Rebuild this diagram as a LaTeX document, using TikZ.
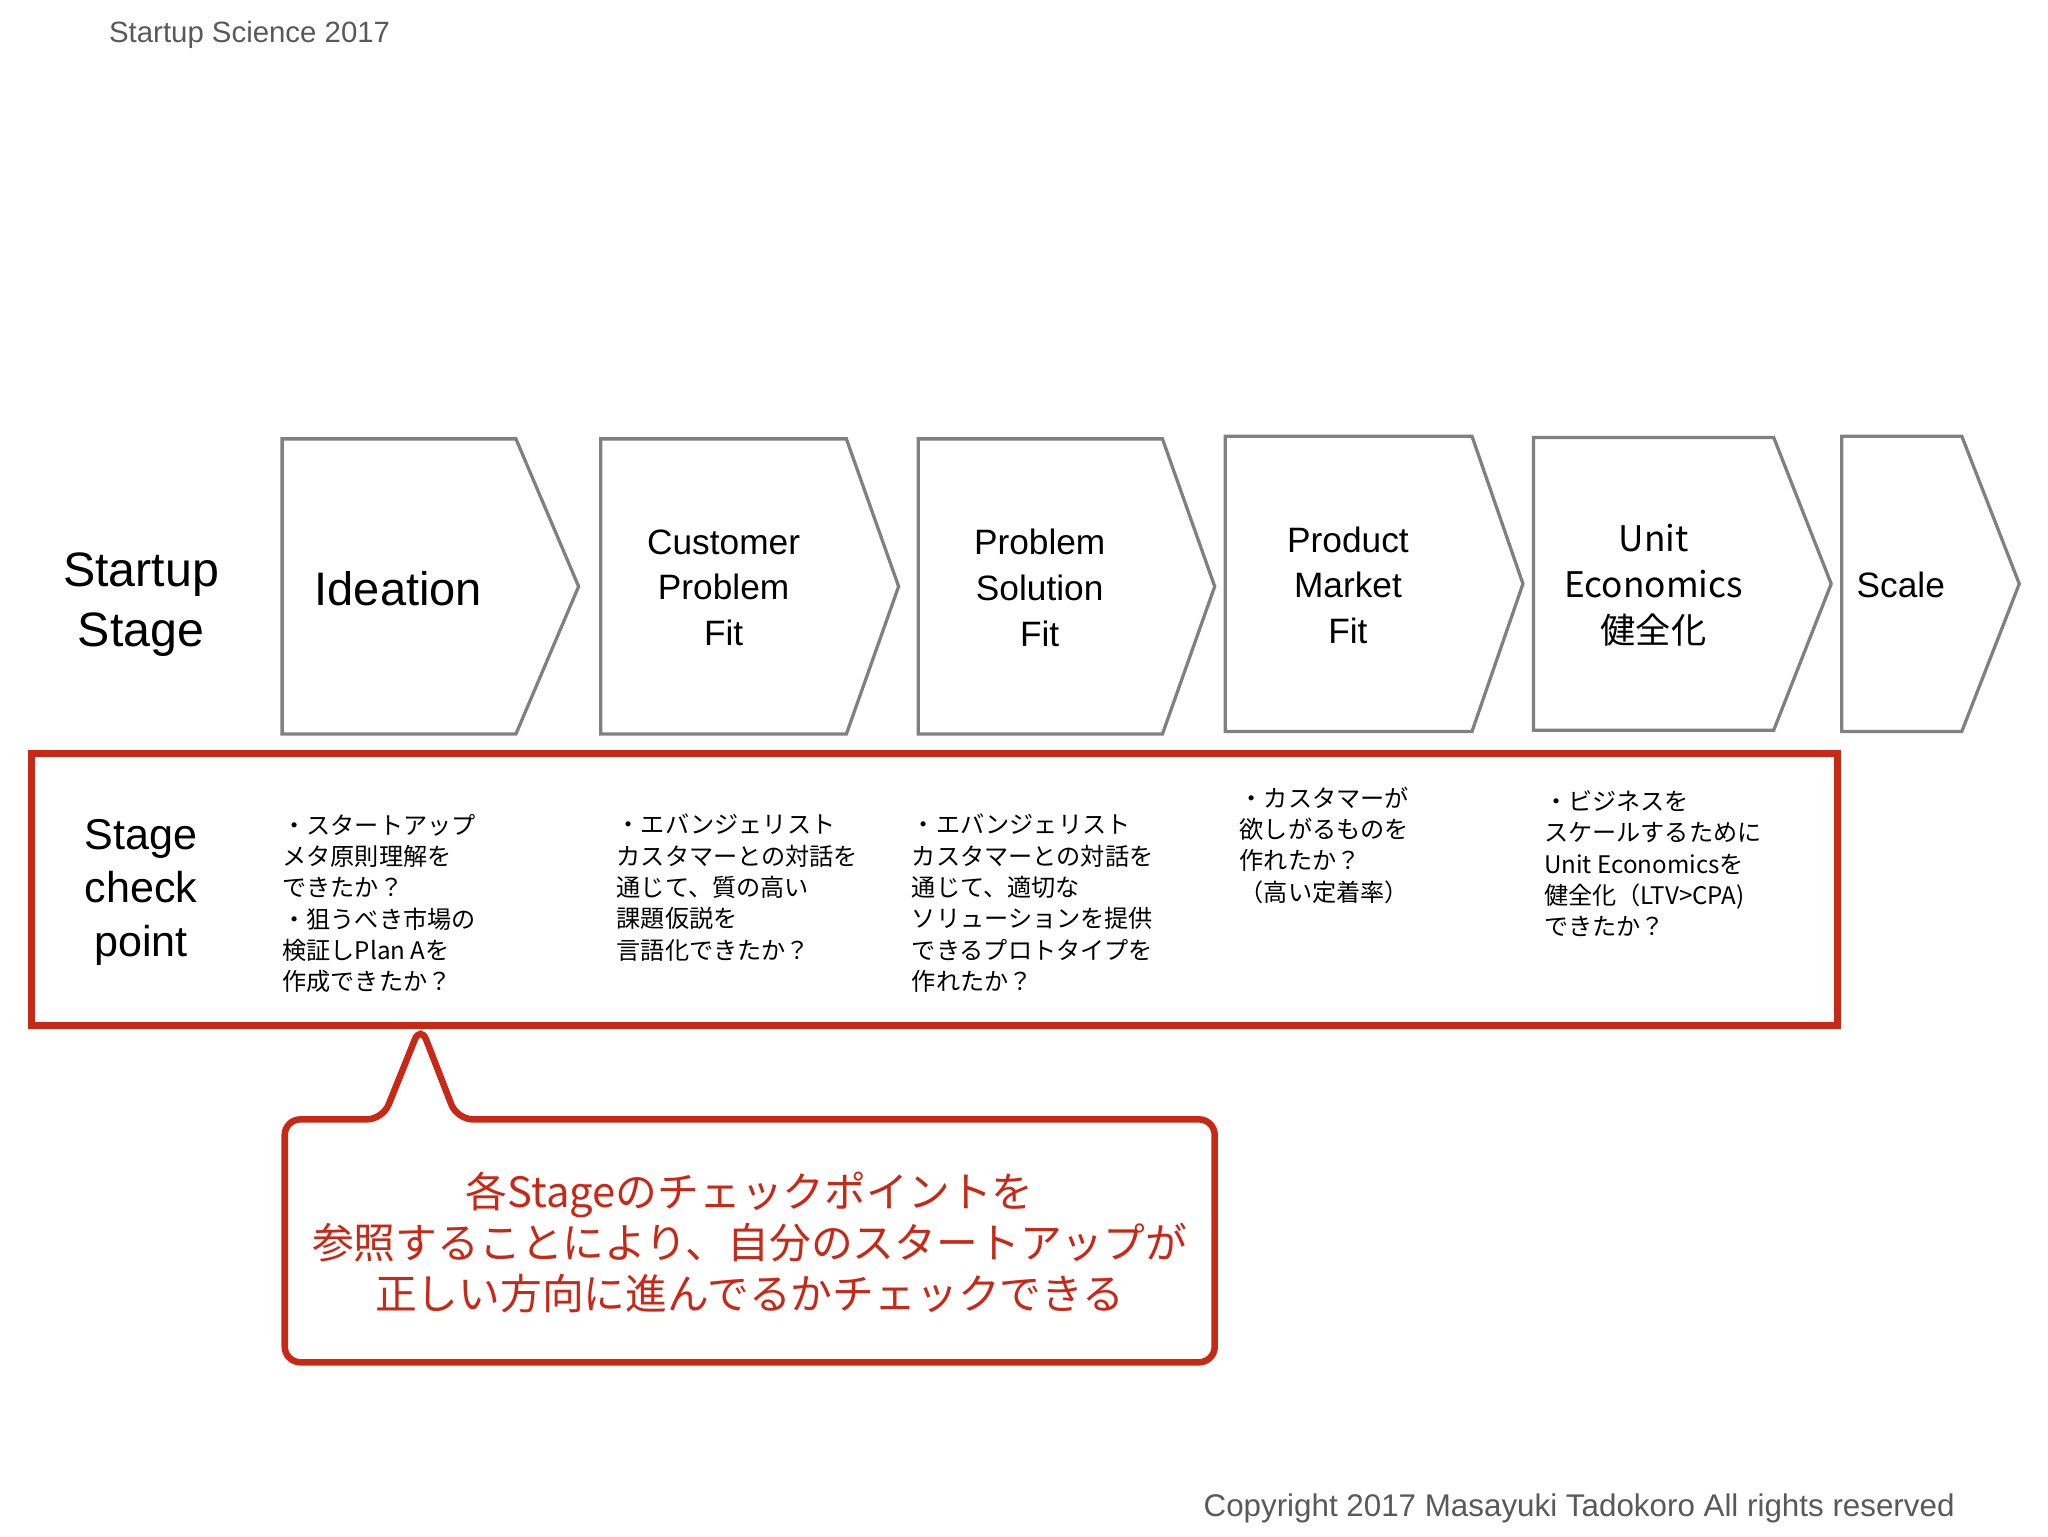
\documentclass[tikz,border=0pt]{standalone}
\usepackage{fontspec}
\setmainfont{Liberation Sans}
\newfontfamily\jp{Noto Sans CJK JP}
\definecolor{rd}{RGB}{200,40,22}
\begin{document}
\begin{tikzpicture}[x=1pt,y=-1pt,
  chev/.style={draw=black!50,line width=2.5pt,line join=miter,fill=white},
  big/.style={font=\fontsize{27}{35}\selectfont,align=center},
  small/.style={font=\jp\fontsize{18.5}{24}\selectfont,align=left,anchor=north west,inner sep=0pt},
  redc/.style={draw=rd,line width=5pt}]
\useasboundingbox (0,0) rectangle (1568,1176);
\node[anchor=west,text=black!65,font=\fontsize{22.5}{26}\selectfont] (hdr) at (80,27) {Startup Science 2017};
% chevrons
\draw[chev] (216,336) -- (395,336) -- (443,449) -- (395,562) -- (216,562) -- cycle;
\draw[chev] (460,336) -- (648,336) -- (688,449) -- (648,562) -- (460,562) -- cycle;
\draw[chev] (703,336) -- (890,336) -- (930,449) -- (890,562) -- (703,562) -- cycle;
\draw[chev] (938,334) -- (1127,334) -- (1166,447) -- (1127,560) -- (938,560) -- cycle;
\draw[chev] (1174,335) -- (1358,335) -- (1402,447) -- (1358,559) -- (1174,559) -- cycle;
\draw[chev] (1410,334) -- (1502,334) -- (1546,447) -- (1502,560) -- (1410,560) -- cycle;
\node[big,font=\fontsize{37}{46}\selectfont] (ss) at (108,463) {Startup\\Stage};
\node[big,font=\fontsize{36}{40}\selectfont] (id) at (305,451) {Ideation};
\node[big] (c1) at (554,450) {Customer\\Problem\\Fit};
\node[big] (c2) at (796,450) {Problem\\Solution\\Fit};
\node[big] (c3) at (1032,448) {Product\\Market\\Fit};
\node[big,font=\jp\fontsize{27}{35}\selectfont] (c4) at (1266,448) {Unit\\Economics\\健全化};
\node[big,anchor=west] (c5) at (1418,448) {Scale};
% red box
\draw[redc,fill=white] (24,577) rectangle (1407,785);
\node[big,font=\fontsize{33}{41}\selectfont] (sc) at (108,683) {Stage\\check\\point};
\node[small] (t1) at (216,623) {・スタートアップ\\メタ原則理解を\\できたか？\\・狙うべき市場の\\検証しPlan Aを\\作成できたか？};
\node[small] (t2) at (472,623) {・エバンジェリスト\\カスタマーとの対話を\\通じて、質の高い\\課題仮説を\\言語化できたか？};
\node[small] (t3) at (698,623) {・エバンジェリスト\\カスタマーとの対話を\\通じて、適切な\\ソリューションを提供\\できるプロトタイプを\\作れたか？};
\node[small] (t4) at (949,602) {・カスタマーが\\欲しがるものを\\作れたか？\\（高い定着率）};
\node[small] (t5) at (1182,605) {・ビジネスを\\スケールするために\\Unit Economicsを\\健全化（LTV>CPA)\\できたか？};
% callout
\draw[redc,fill=white,rounded corners=12pt,line join=miter] (293,857) -- (322,785) -- (350,857) -- (930,857) -- (930,1043) -- (218,1043) -- (218,857) -- cycle;
\node[font=\jp\fontsize{32}{39}\selectfont,text=rd,align=center] (co) at (574,951) {各Stageのチェックポイントを\\参照することにより、自分のスタートアップが\\正しい方向に進んでるかチェックできる};
\node[anchor=east,text=black!65,font=\fontsize{24}{28}\selectfont] (cp) at (1500,1155) {Copyright 2017 Masayuki Tadokoro All rights reserved};
\end{tikzpicture}
\end{document}
